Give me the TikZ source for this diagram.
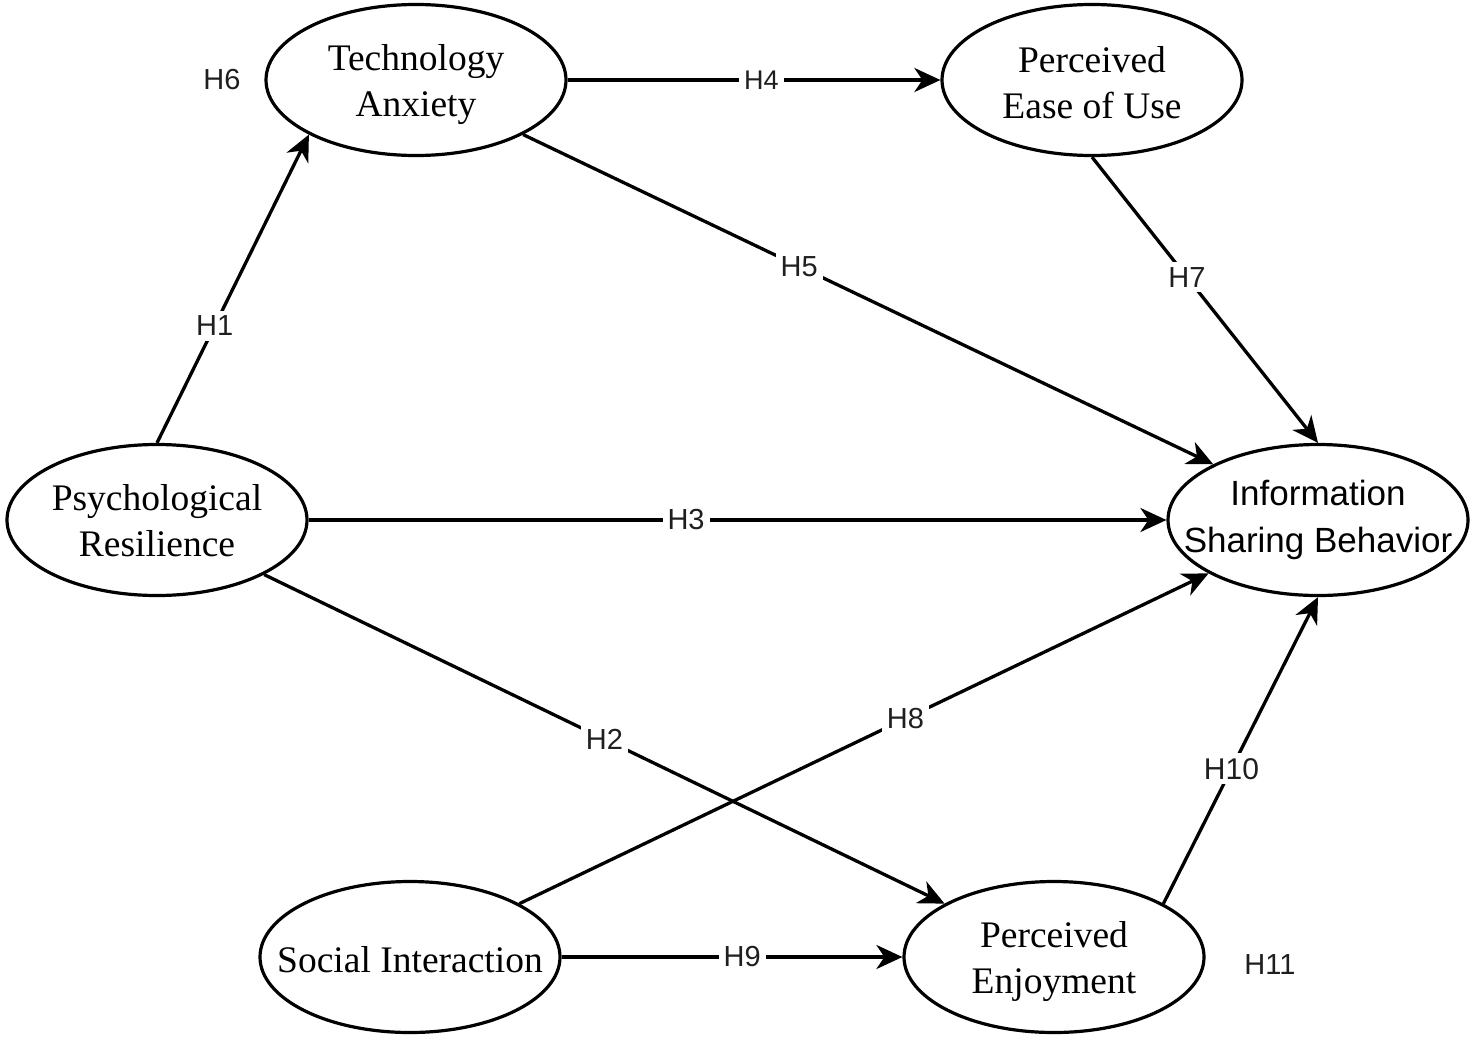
\documentclass[tikz,border=0pt]{standalone}
\usepackage{fontspec}
\setmainfont{Liberation Serif}
\setsansfont{Liberation Sans}
\usetikzlibrary{shapes.geometric,arrows.meta}
\begin{document}
\begin{tikzpicture}[x=1pt,y=-1pt,
  construct/.style={ellipse,draw,line width=3.2pt,minimum width=300pt,minimum height=151pt,inner sep=0pt},
  contxt/.style={align=center,inner sep=0pt,font=\fontsize{37.5}{46}\selectfont},
  sanstxt/.style={align=center,inner sep=0pt,font=\sffamily\fontsize{35}{47}\selectfont},
  path/.style={line width=3.3pt,-{Stealth[length=26pt,width=24pt,inset=8pt]}},
  hlab/.style={fill=white,inner sep=5pt,font=\sffamily\fontsize{29}{33}\selectfont,text=black!88}
]
\useasboundingbox (0,0) rectangle (1477,1041);
\node[construct] (ta) at (416,80) {};
\node[contxt,yshift=-5pt] (tat) at (ta) {Technology\\Anxiety};
\node[construct] (peou) at (1092,80) {};
\node[contxt,yshift=-3pt] (peout) at (peou) {Perceived\\Ease of Use};
\node[construct] (pr) at (157,520) {};
\node[contxt,yshift=-1pt] (prt) at (pr) {Psychological\\Resilience};
\node[construct] (isb) at (1318,520) {};
\node[sanstxt] (isbt) at (isb) {Information\\Sharing Behavior};
\node[construct] (si) at (410,957) {};
\node[contxt,yshift=-3pt] (sit) at (si) {Social Interaction};
\node[construct] (pe) at (1054,957) {};
\node[contxt,yshift=-5pt] (pet) at (pe) {Perceived\\Enjoyment};

\draw[path] (pr.90) -- node[hlab,pos=0.38] (h1) {H1} (ta.207);
\draw[path] (ta.east) -- node[hlab,pos=0.52,font=\sffamily\fontsize{27}{31}\selectfont] (h4) {H4} (peou.west);
\draw[path] (ta.333) -- node[hlab,pos=0.40] (h5) {H5} (isb.152);
\draw[path] (peou.south) -- node[hlab,pos=0.42] (h7) {H7} (isb.north);
\draw[path] (pr.east) -- node[hlab,pos=0.44] (h3) {H3} (isb.west);
\draw[path] (pr.333) -- node[hlab,pos=0.50] (h2) {H2} (pe.154.5);
\draw[path] (si.26.6) -- node[hlab,pos=0.56] (h8) {H8} (isb.206);
\draw[path] (si.east) -- node[hlab,pos=0.53] (h9) {H9} (pe.west);
\draw[path] (pe.26) -- node[hlab,pos=0.44,font=\sffamily\fontsize{30}{34}\selectfont] (h10) {H10} (isb.south);

\node[hlab] (h6) at (222,80) {H6};
\node[hlab] (h11) at (1270,965) {H11};
\end{tikzpicture}
\end{document}
